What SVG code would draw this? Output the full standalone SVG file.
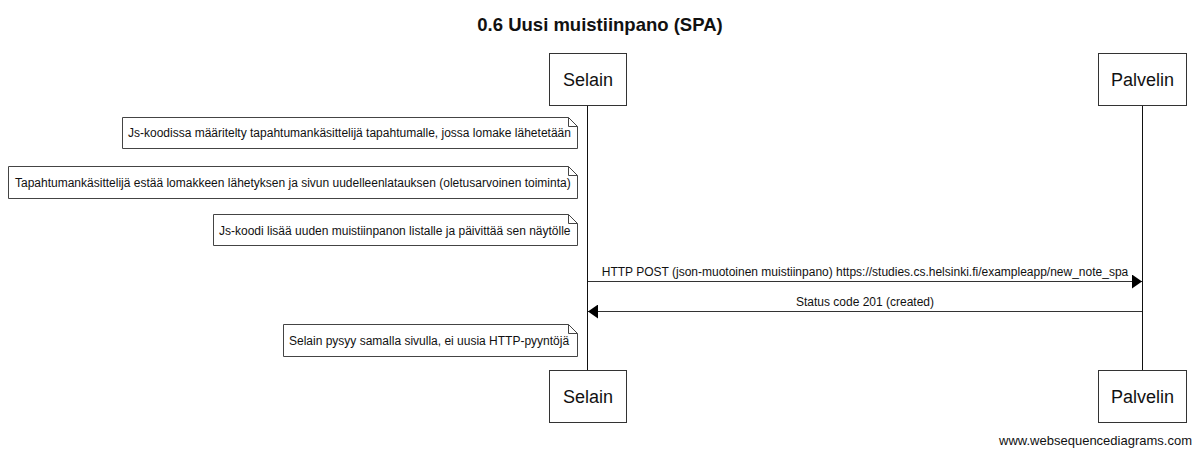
<svg xmlns="http://www.w3.org/2000/svg" width="1200" height="455" viewBox="0 0 1200 455">
<style>
text{font-family:"Liberation Sans",Arial,sans-serif;fill:#111}
.title{font-size:18.5px;font-weight:bold;text-anchor:middle}
.part rect{fill:#fff;stroke:#333;stroke-width:1}
.part text{font-size:18px;text-anchor:middle}
.note path{fill:#fff;stroke:#444;stroke-width:1}
.note text{font-size:12px}
.life{stroke:#111;stroke-width:1}
.msg line{stroke:#333;stroke-width:1}
.msg text{font-size:12px;text-anchor:middle}
.foot{font-size:13px;text-anchor:end}
</style>
<defs>
<marker id="ah" viewBox="0 0 10 14" refX="10" refY="7" markerWidth="10" markerHeight="14" markerUnits="userSpaceOnUse" orient="auto">
<path d="M0,0 L10,7 L0,14 Z" fill="#000"/>
</marker>
</defs>
<rect width="1200" height="455" fill="#fff"/>
<text class="title" x="600" y="31">0.6 Uusi muistiinpano (SPA)</text>
<g id="lifelines">
<line class="life" x1="587.5" y1="105" x2="587.5" y2="371"/>
<line class="life" x1="1142.5" y1="106" x2="1142.5" y2="371"/>
</g>
<g id="Selain" class="part">
<rect x="549.5" y="53.5" width="77" height="52"/>
<text x="588" y="86">Selain</text>
</g>
<g id="Palvelin" class="part">
<rect x="1098.5" y="53.5" width="88" height="52"/>
<text x="1142.5" y="86">Palvelin</text>
</g>
<g id="Selain-bottom" class="part">
<rect x="549.5" y="370.5" width="77" height="52"/>
<text x="588" y="403">Selain</text>
</g>
<g id="Palvelin-bottom" class="part">
<rect x="1098.5" y="370.5" width="88" height="52"/>
<text x="1142.5" y="403">Palvelin</text>
</g>
<g id="note1" class="note">
<path d="M122.5,117.5 H568.5 L577.5,126.5 V148.5 H122.5 Z M568.5,117.5 V126.5 H577.5"/>
<text x="128" y="137">Js-koodissa määritelty tapahtumankäsittelijä tapahtumalle, jossa lomake lähetetään</text>
</g>
<g id="note2" class="note">
<path d="M8.5,166.5 H568.5 L577.5,175.5 V198.5 H8.5 Z M568.5,166.5 V175.5 H577.5"/>
<text x="15" y="187">Tapahtumankäsittelijä estää lomakkeen lähetyksen ja sivun uudelleenlatauksen (oletusarvoinen toiminta)</text>
</g>
<g id="note3" class="note">
<path d="M213.5,214.5 H568.5 L577.5,223.5 V245.5 H213.5 Z M568.5,214.5 V223.5 H577.5"/>
<text x="219" y="235">Js-koodi lisää uuden muistiinpanon listalle ja päivittää sen näytölle</text>
</g>
<g id="note4" class="note">
<path d="M283.5,324.5 H568.5 L577.5,333.5 V356.5 H283.5 Z M568.5,324.5 V333.5 H577.5"/>
<text x="289" y="345">Selain pysyy samalla sivulla, ei uusia HTTP-pyyntöjä</text>
</g>
<g id="connectors" class="msg">
<line x1="588" y1="281.5" x2="1142" y2="281.5" marker-end="url(#ah)"/>
<text x="865" y="276">HTTP POST (json-muotoinen muistiinpano) https://studies.cs.helsinki.fi/exampleapp/new_note_spa</text>
<line x1="1142" y1="311.5" x2="588" y2="311.5" marker-end="url(#ah)"/>
<text x="865" y="306">Status code 201 (created)</text>
</g>
<text class="foot" x="1192" y="445">www.websequencediagrams.com</text>
</svg>
